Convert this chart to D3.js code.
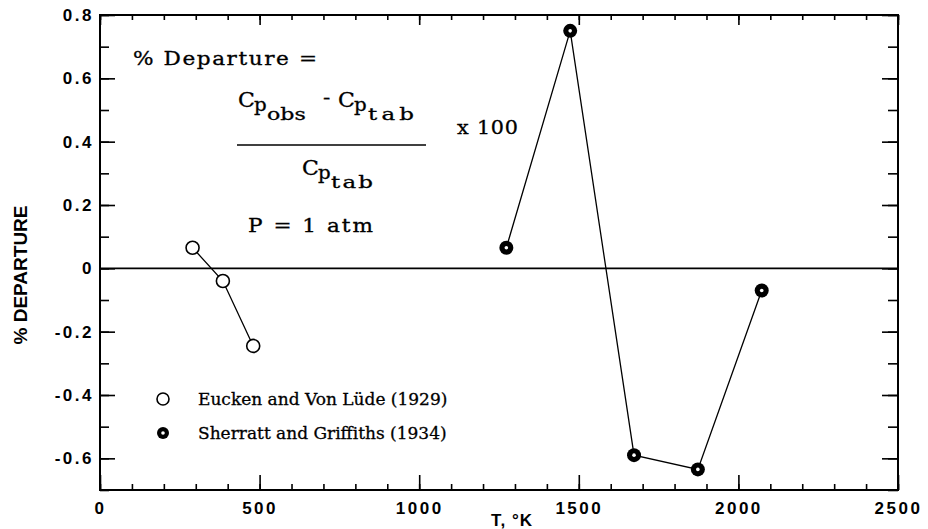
<!DOCTYPE html>
<html>
<head>
<meta charset="utf-8">
<script src="https://cdn.jsdelivr.net/npm/d3@7"></script>
<style>
  body { margin: 0; background: white; }
  svg { display: block; }
</style>
</head>
<body>
<div id="chart"></div>
<script>
// data
const xTickValues = [0, 500, 1000, 1500, 2000, 2500];
const xTickLabels = ['0', '500', '1000', '1500', '2000', '2500'];
const yTickValues = [-0.6, -0.4, -0.2, 0, 0.2, 0.4, 0.6, 0.8];
const yTickLabels = ['-0.6', '-0.4', '-0.2', '0', '0.2', '0.4', '0.6', '0.8'];

const euckenT = [290, 385, 480];
const euckenDep = [0.065, -0.04, -0.245];
const sherrattT = [1273, 1473, 1673, 1873, 2073];
const sherrattDep = [0.065, 0.75, -0.59, -0.635, -0.07];

const seriesNames = ['Eucken and Von Lüde (1929)', 'Sherratt and Griffiths (1934)'];

const width = 928;
const height = 529;
const margin = { top: 15, right: 30, bottom: 39, left: 100 };

const svg = d3.select('#chart')
    .append('svg')
    .attr('width', width)
    .attr('height', height)
    .style('background', 'white');

const xScale = d3.scaleLinear()
    .domain([0, 2500])
    .range([margin.left, width - margin.right]);

const yScale = d3.scaleLinear()
    .domain([-0.7, 0.8])
    .range([height - margin.bottom, margin.top]);

const xMinor = d3.range(0, 2501, 100);
const yMinor = d3.range(-7, 9).map(d => d / 10);

const labelFont = '"Liberation Sans", Arial, sans-serif';
const narrowFont = '"Liberation Sans Narrow", "Arial Narrow", sans-serif';
const serifFont = '"DejaVu Serif", "Century Schoolbook", serif';

// ticks on all four sides, pointing inwards
function tickAxis(axis, translate, values, size) {
    svg.append('g')
        .attr('transform', translate)
        .call(axis.tickValues(values).tickSize(-size).tickSizeOuter(0).tickFormat(''))
        .call(g => g.select('.domain').remove())
        .call(g => g.selectAll('line').attr('stroke', '#000').attr('stroke-width', 1.6));
}

const x0 = xScale.range()[0], x1 = xScale.range()[1];
const y0 = yScale.range()[0], y1 = yScale.range()[1];

tickAxis(d3.axisBottom(xScale), `translate(0,${y0})`, xMinor, 6);
tickAxis(d3.axisBottom(xScale), `translate(0,${y0})`, xTickValues, 15);
tickAxis(d3.axisTop(xScale), `translate(0,${y1})`, xMinor, 5);
tickAxis(d3.axisTop(xScale), `translate(0,${y1})`, xTickValues, 10);
tickAxis(d3.axisLeft(yScale), `translate(${x0},0)`, yMinor, 9);
tickAxis(d3.axisLeft(yScale), `translate(${x0},0)`, yTickValues, 15);
tickAxis(d3.axisRight(yScale), `translate(${x1},0)`, yMinor, 10);
tickAxis(d3.axisRight(yScale), `translate(${x1},0)`, yTickValues, 16);

// frame
svg.append('rect')
    .attr('x', x0)
    .attr('y', y1)
    .attr('width', x1 - x0)
    .attr('height', y0 - y1)
    .attr('fill', 'none')
    .attr('stroke', '#000')
    .attr('stroke-width', 2);

// zero line
svg.append('line')
    .attr('x1', x0)
    .attr('x2', x1)
    .attr('y1', yScale(0))
    .attr('y2', yScale(0))
    .attr('stroke', '#000')
    .attr('stroke-width', 1.6);

// tick labels
svg.append('g')
    .attr('transform', `translate(0,${y0})`)
    .call(d3.axisBottom(xScale).tickValues(xTickValues).tickSize(0).tickPadding(12)
        .tickFormat((d, i) => xTickLabels[i]))
    .call(g => g.select('.domain').remove())
    .call(g => g.selectAll('text')
        .attr('font-family', labelFont)
        .attr('font-weight', 'bold')
        .attr('font-size', 17)
        .attr('letter-spacing', 2.5)
        .attr('fill', '#000'));

svg.append('g')
    .attr('transform', `translate(${x0},0)`)
    .call(d3.axisLeft(yScale).tickValues(yTickValues).tickSize(0).tickPadding(6)
        .tickFormat((d, i) => yTickLabels[i]))
    .call(g => g.select('.domain').remove())
    .call(g => g.selectAll('text')
        .attr('font-family', labelFont)
        .attr('font-weight', 'bold')
        .attr('font-size', 17)
        .attr('letter-spacing', 2.5)
        .attr('fill', '#000'));

// axis titles
svg.append('text')
    .attr('x', 512)
    .attr('y', 526)
    .attr('text-anchor', 'middle')
    .attr('font-family', narrowFont)
    .attr('font-weight', 'bold')
    .attr('font-size', 17)
    .attr('letter-spacing', 1)
    .text('T,  °K');

svg.append('text')
    .attr('transform', 'translate(27,275) rotate(-90)')
    .attr('text-anchor', 'middle')
    .attr('font-family', narrowFont)
    .attr('font-weight', 'bold')
    .attr('font-size', 19)
    .text('%  DEPARTURE');

// connecting lines
const line = d3.line()
    .x(d => xScale(d[0]))
    .y(d => yScale(d[1]));

const eucken = euckenT.map((t, i) => [t, euckenDep[i]]);
const sherratt = sherrattT.map((t, i) => [t, sherrattDep[i]]);

[eucken, sherratt].forEach(pts => {
    svg.append('path')
        .datum(pts)
        .attr('d', line)
        .attr('fill', 'none')
        .attr('stroke', '#000')
        .attr('stroke-width', 1.3);
});

// markers
function openMarker(sel) {
    sel.append('circle')
        .attr('r', 6.5)
        .attr('fill', 'white')
        .attr('stroke', '#000')
        .attr('stroke-width', 1.6);
}
function dotMarker(sel) {
    sel.append('circle')
        .attr('r', 7)
        .attr('fill', '#000');
    sel.append('circle')
        .attr('r', 1.8)
        .attr('fill', 'white');
}

svg.selectAll('.eucken')
    .data(eucken)
    .enter()
    .append('g')
    .attr('class', 'eucken')
    .attr('transform', d => `translate(${xScale(d[0])},${yScale(d[1])})`)
    .call(openMarker);

svg.selectAll('.sherratt')
    .data(sherratt)
    .enter()
    .append('g')
    .attr('class', 'sherratt')
    .attr('transform', d => `translate(${xScale(d[0])},${yScale(d[1])})`)
    .call(dotMarker);

// formula annotation (old typeset face is wide, so stretch it a little)
const note = svg.append('g')
    .attr('font-family', serifFont)
    .attr('fill', '#000')
    .attr('stroke', '#000')
    .attr('stroke-width', 0.3);

function put(x, y, size, txt, k, len) {
    const t = note.append('text')
        .attr('transform', `translate(${x},${y}) scale(${k},1)`)
        .attr('font-size', size)
        .text(txt);
    if (len) t.attr('textLength', len / k).attr('lengthAdjust', 'spacing');
    return t;
}

put(133, 65, 18, '% Departure =', 1.2, 184);

put(238, 107, 21, 'C', 1.05);
put(254, 111, 18, 'p', 1.1);
put(267, 120, 17, 'obs', 1.3);
put(323, 104, 18, '-', 1.2);
put(338, 107, 21, 'C', 1.05);
put(354, 111, 18, 'p', 1.1);
put(368, 120, 17, 'tab', 1.35, 46);

note.append('line')
    .attr('x1', 237)
    .attr('x2', 426)
    .attr('y1', 145)
    .attr('y2', 145)
    .attr('stroke', '#000')
    .attr('stroke-width', 1.5);

put(457, 134, 18, 'x 100', 1.15, 61);

put(302, 175, 21, 'C', 1.05);
put(318, 179, 18, 'p', 1.1);
put(331, 188, 17, 'tab', 1.35, 42);

put(248, 232, 18, 'P = 1 atm', 1.2, 125);

// legend
const legend = svg.append('g')
    .attr('transform', 'translate(163, 399)');

legend.selectAll(null)
    .data(seriesNames)
    .enter()
    .append('g')
    .attr('transform', (d, i) => `translate(0, ${i * 34})`)
    .each(function(d, i) {
        const g = d3.select(this);
        if (i === 0) openMarker(g); else dotMarker(g);
        g.select('circle').attr('r', 6);
        g.append('text')
            .attr('x', 35)
            .attr('y', 6)
            .attr('font-family', serifFont)
            .attr('font-size', 17)
            .attr('stroke', '#000')
            .attr('stroke-width', 0.3)
            .text(d);
    });
</script>
</body>
</html>
